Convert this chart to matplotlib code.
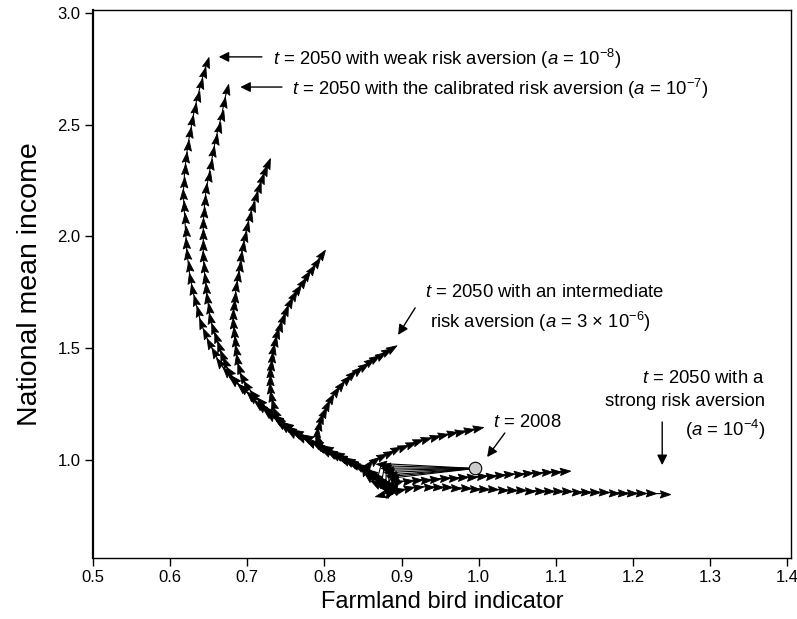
import numpy as np
import matplotlib
matplotlib.use("Agg")
import matplotlib.pyplot as plt
from matplotlib.markers import MarkerStyle
from matplotlib.path import Path
from matplotlib.transforms import Affine2D

plt.rcParams['font.family'] = ['Liberation Sans', 'DejaVu Sans']
plt.rcParams['mathtext.fontset'] = 'custom'
plt.rcParams['mathtext.rm'] = 'Liberation Sans'
plt.rcParams['mathtext.it'] = 'Liberation Sans:italic'
plt.rcParams['mathtext.bf'] = 'Liberation Sans:bold'

# state in 2008 (common start of every trajectory)
start_x, start_y = 0.995, 0.960

# trajectories 2009..2050
weak_x = [0.874, 0.868, 0.862, 0.850, 0.836, 0.821, 0.808, 0.794, 0.781, 0.768, 0.755, 0.743,
          0.730, 0.718, 0.706, 0.694, 0.682, 0.672, 0.664, 0.657, 0.651, 0.645, 0.640, 0.636,
          0.632, 0.629, 0.626, 0.624, 0.622, 0.621, 0.620, 0.619, 0.618, 0.617, 0.618, 0.619,
          0.621, 0.623, 0.626, 0.629, 0.632, 0.636, 0.640, 0.644, 0.648]
weak_y = [0.982, 0.905, 0.930, 0.960, 0.985, 1.005, 1.030, 1.055, 1.080, 1.105, 1.135, 1.165,
          1.200, 1.240, 1.280, 1.320, 1.355, 1.395, 1.435, 1.480, 1.520, 1.565, 1.610, 1.665,
          1.715, 1.765, 1.815, 1.865, 1.920, 1.970, 2.025, 2.080, 2.135, 2.190, 2.245, 2.300,
          2.355, 2.410, 2.465, 2.520, 2.575, 2.630, 2.685, 2.735, 2.780]

calib_x = [0.878, 0.874, 0.868, 0.856, 0.843, 0.830, 0.816, 0.802, 0.789, 0.776, 0.763, 0.750,
           0.738, 0.726, 0.714, 0.703, 0.692, 0.683, 0.676, 0.671, 0.667, 0.663, 0.659, 0.655,
           0.652, 0.650, 0.648, 0.647, 0.645, 0.644, 0.643, 0.643, 0.643, 0.643, 0.644, 0.645,
           0.647, 0.650, 0.653, 0.656, 0.659, 0.663, 0.667, 0.670, 0.674]
calib_y = [0.972, 0.895, 0.920, 0.945, 0.970, 0.995, 1.020, 1.045, 1.070, 1.095, 1.120, 1.150,
           1.180, 1.215, 1.250, 1.290, 1.325, 1.360, 1.395, 1.435, 1.470, 1.510, 1.550, 1.590,
           1.635, 1.680, 1.725, 1.770, 1.815, 1.860, 1.910, 1.960, 2.010, 2.060, 2.110, 2.160,
           2.215, 2.270, 2.325, 2.380, 2.435, 2.490, 2.545, 2.600, 2.660]

mid1_x = [0.880, 0.880, 0.872, 0.860, 0.846, 0.832, 0.818, 0.804, 0.790, 0.777, 0.764, 0.751,
          0.739, 0.727, 0.716, 0.707, 0.699, 0.693, 0.689, 0.687, 0.685, 0.684, 0.683, 0.682,
          0.682, 0.683, 0.684, 0.686, 0.688, 0.690, 0.692, 0.694, 0.697, 0.700, 0.703, 0.707,
          0.711, 0.715, 0.719, 0.723, 0.727]
mid1_y = [0.962, 0.885, 0.915, 0.945, 0.972, 0.998, 1.025, 1.050, 1.075, 1.100, 1.125, 1.155,
          1.185, 1.220, 1.260, 1.295, 1.335, 1.370, 1.410, 1.450, 1.490, 1.530, 1.570, 1.610,
          1.650, 1.690, 1.730, 1.775, 1.820, 1.865, 1.910, 1.955, 2.000, 2.045, 2.090, 2.135,
          2.180, 2.220, 2.260, 2.295, 2.330]

mid2_x = [0.882, 0.885, 0.875, 0.862, 0.849, 0.836, 0.822, 0.808, 0.794, 0.781, 0.768, 0.757,
          0.748, 0.741, 0.736, 0.733, 0.731, 0.730, 0.730, 0.730, 0.731, 0.732, 0.734, 0.736,
          0.739, 0.742, 0.746, 0.750, 0.755, 0.760, 0.766, 0.772, 0.778, 0.784, 0.790, 0.797]
mid2_y = [0.952, 0.878, 0.905, 0.935, 0.962, 0.988, 1.010, 1.035, 1.058, 1.080, 1.100, 1.125,
          1.150, 1.180, 1.215, 1.250, 1.285, 1.320, 1.355, 1.390, 1.425, 1.460, 1.495, 1.530,
          1.565, 1.600, 1.635, 1.670, 1.705, 1.735, 1.765, 1.795, 1.825, 1.855, 1.885, 1.920]

inter_x = [0.884, 0.890, 0.878, 0.865, 0.852, 0.839, 0.826, 0.813, 0.801, 0.793, 0.790, 0.791,
           0.793, 0.796, 0.800, 0.804, 0.809, 0.815, 0.822, 0.829, 0.836, 0.843, 0.851, 0.859,
           0.866, 0.873, 0.881, 0.888]
inter_y = [0.942, 0.870, 0.895, 0.925, 0.952, 0.978, 1.000, 1.020, 1.040, 1.065, 1.095, 1.125,
           1.155, 1.185, 1.215, 1.245, 1.275, 1.305, 1.335, 1.360, 1.382, 1.402, 1.420, 1.440,
           1.455, 1.470, 1.485, 1.500]

mid3_x = [0.886, 0.892, 0.878, 0.866, 0.856, 0.852, 0.858, 0.866, 0.875, 0.884, 0.893, 0.902,
          0.912, 0.922, 0.932, 0.943, 0.954, 0.965, 0.976, 0.987, 0.999]
mid3_y = [0.932, 0.862, 0.872, 0.895, 0.925, 0.955, 0.980, 1.000, 1.015, 1.030, 1.045, 1.057,
          1.070, 1.082, 1.092, 1.102, 1.110, 1.118, 1.125, 1.132, 1.140]

mid4_x = [0.888, 0.888, 0.876, 0.884, 0.896, 0.908, 0.920, 0.932, 0.944, 0.956, 0.968, 0.980,
          0.992, 1.004, 1.016, 1.028, 1.040, 1.052, 1.064, 1.076, 1.088, 1.100, 1.112]
mid4_y = [0.925, 0.868, 0.875, 0.888, 0.900, 0.905, 0.908, 0.910, 0.913, 0.916, 0.918, 0.920,
          0.922, 0.925, 0.928, 0.930, 0.933, 0.936, 0.939, 0.941, 0.943, 0.945, 0.948]

strong_x = [0.890, 0.884, 0.872, 0.885, 0.898, 0.910, 0.922, 0.935, 0.947, 0.959, 0.971, 0.983,
            0.995, 1.007, 1.019, 1.031, 1.043, 1.055, 1.067, 1.079, 1.091, 1.103, 1.115, 1.127,
            1.139, 1.151, 1.163, 1.175, 1.187, 1.199, 1.211, 1.223, 1.241]
strong_y = [0.918, 0.852, 0.842, 0.852, 0.862, 0.872, 0.877, 0.878, 0.877, 0.876, 0.874, 0.872,
            0.870, 0.868, 0.866, 0.865, 0.863, 0.862, 0.861, 0.860, 0.859, 0.858, 0.857, 0.856,
            0.855, 0.854, 0.853, 0.852, 0.851, 0.850, 0.849, 0.848, 0.847]

trajectories = [(weak_x, weak_y), (calib_x, calib_y), (mid1_x, mid1_y), (mid2_x, mid2_y),
                (inter_x, inter_y), (mid3_x, mid3_y), (mid4_x, mid4_y), (strong_x, strong_y)]

xticks = [0.5, 0.6, 0.7, 0.8, 0.9, 1.0, 1.1, 1.2, 1.3, 1.4]
yticks = [1.0, 1.5, 2.0, 2.5, 3.0]

fig = plt.figure(figsize=(7.97, 6.19), dpi=100)
ax = fig.add_axes([93 / 797, 1 - 558 / 619, (791 - 93) / 797, (558 - 10) / 619])
ax.set_xlim(0.5, 1.405)
ax.set_ylim(0.559, 3.013)

# arrowhead marker, pointing along +x before rotation
head = Path([(1.0, 0.0), (-1.0, 0.7), (-0.7, 0.0), (-1.0, -0.7), (1.0, 0.0)],
            [Path.MOVETO, Path.LINETO, Path.LINETO, Path.LINETO, Path.CLOSEPOLY])

for tx, ty in trajectories:
    xs = [start_x] + list(tx)
    ys = [start_y] + list(ty)
    ax.plot(xs, ys, color='black', lw=0.8, zorder=2)
    pts = ax.transData.transform(np.column_stack([xs, ys]))
    for i in range(1, len(xs)):
        dx, dy = pts[i] - pts[i - 1]
        ang = np.degrees(np.arctan2(dy, dx))
        ms = MarkerStyle(head, transform=Affine2D().rotate_deg(ang))
        ax.plot(xs[i], ys[i], marker=ms, ms=7.5, color='black', mew=0.6, zorder=3)

ax.plot(start_x, start_y, 'o', ms=9, mfc='#cccccc', mec='black', mew=0.8, zorder=5)

arrow = dict(arrowstyle='-|>', color='black', lw=1.0, mutation_scale=15, shrinkA=0, shrinkB=0)
fs = 13.3
ax.annotate('', xy=(0.663, 2.803), xytext=(0.719, 2.803), arrowprops=arrow)
ax.text(0.733, 2.795, r"$t$ = 2050 with weak risk aversion ($a$ = 10$^{-8}$)", fontsize=fs, va='center')
ax.annotate('', xy=(0.691, 2.668), xytext=(0.745, 2.668), arrowprops=arrow)
ax.text(0.758, 2.660, r"$t$ = 2050 with the calibrated risk aversion ($a$ = 10$^{-7}$)", fontsize=fs, va='center')

ax.annotate('', xy=(0.8956, 1.558), xytext=(0.9177, 1.679), arrowprops=arrow)
ax.text(0.9306, 1.746, r"$t$ = 2050 with an intermediate", fontsize=fs, va='center')
ax.text(0.937, 1.616, r"risk aversion ($a$ = 3 × 10$^{-6}$)", fontsize=fs, va='center')

ax.annotate('', xy=(1.011, 1.011), xytext=(1.034, 1.119), arrowprops=arrow)
ax.text(1.019, 1.168, r"$t$ = 2008", fontsize=fs, va='center')

ax.annotate('', xy=(1.238, 0.975), xytext=(1.238, 1.168), arrowprops=arrow)
ax.text(1.3716, 1.365, r"$t$ = 2050 with a", fontsize=fs, va='center', ha='right')
ax.text(1.3716, 1.258, "strong risk aversion", fontsize=fs, va='center', ha='right')
ax.text(1.3716, 1.132, r"($a$ = 10$^{-4}$)", fontsize=fs, va='center', ha='right')

ax.set_xticks(xticks)
ax.set_yticks(yticks)
ax.set_xticklabels([f"{v:.1f}" for v in xticks])
ax.set_yticklabels([f"{v:.1f}" for v in yticks])
ax.tick_params(direction='out', length=6, width=1, labelsize=12, pad=3, top=False, right=False)
for s in ax.spines.values():
    s.set_linewidth(1.0)
ax.spines['left'].set_linewidth(1.6)

ax.set_xlabel("Farmland bird indicator", fontsize=17, labelpad=4)
ax.set_ylabel("National mean income", fontsize=20.5, labelpad=10)

fig.savefig("out.png", dpi=100)
